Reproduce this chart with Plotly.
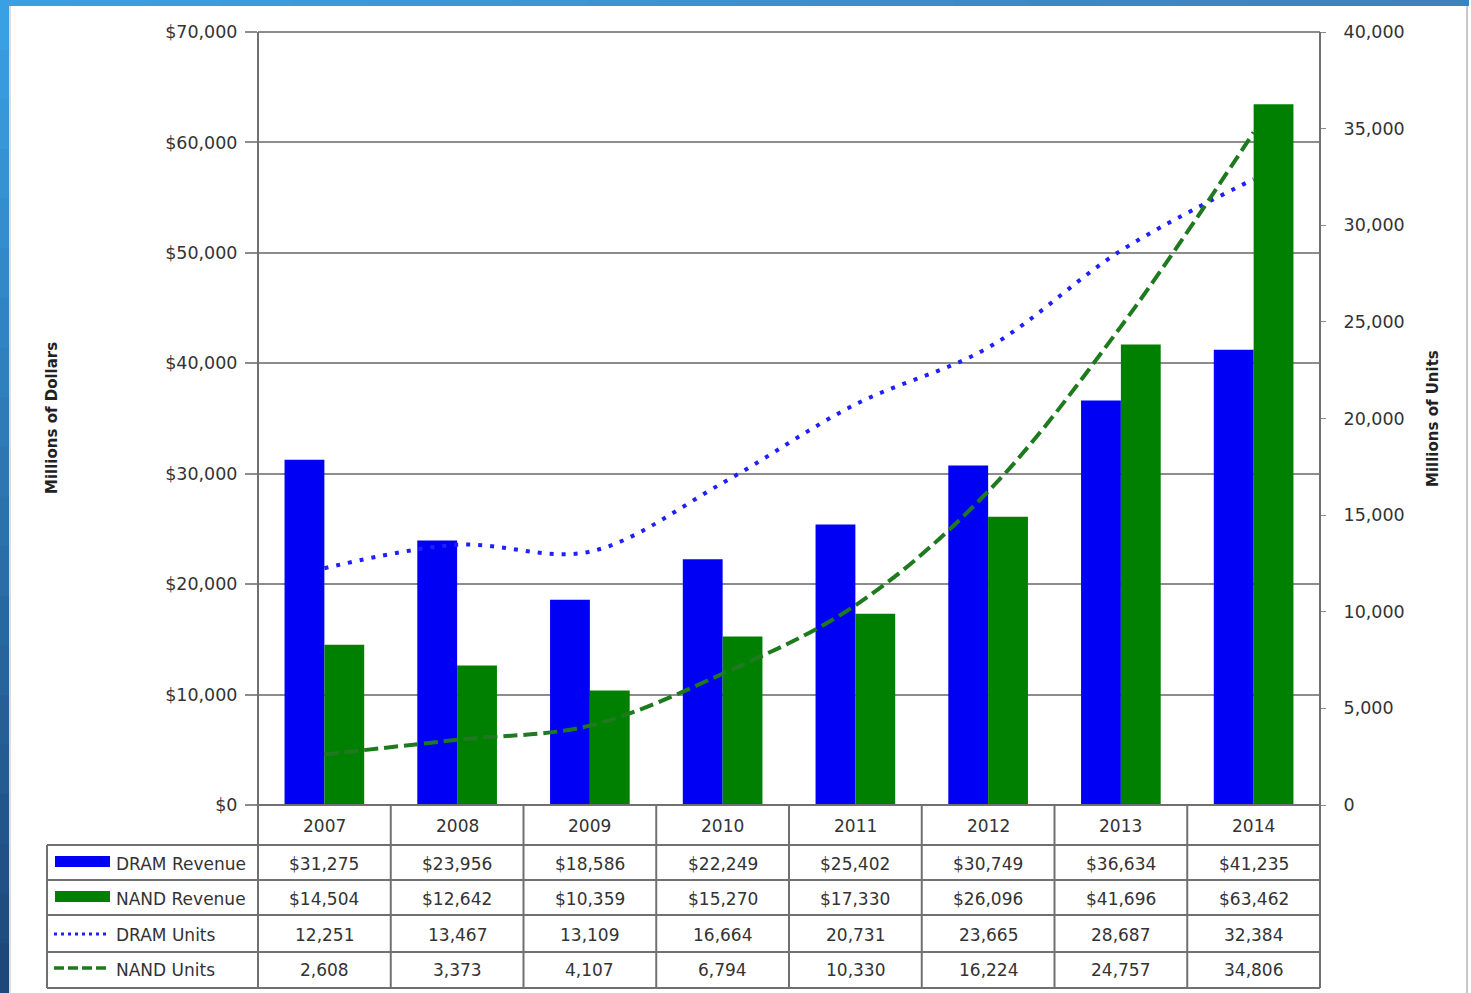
import plotly.graph_objects as go

years = ["2007", "2008", "2009", "2010", "2011", "2012", "2013", "2014"]
dram_revenue = [31275, 23956, 18586, 22249, 25402, 30749, 36634, 41235]
nand_revenue = [14504, 12642, 10359, 15270, 17330, 26096, 41696, 63462]
dram_units = [12251, 13467, 13109, 16664, 20731, 23665, 28687, 32384]
nand_units = [2608, 3373, 4107, 6794, 10330, 16224, 24757, 34806]
series_names = ["DRAM Revenue", "NAND Revenue", "DRAM Units", "NAND Units"]

W, H = 1471, 993
L, R, T, B = 258, 1320, 32, 805
PW, PH = R - L, B - T


def px(x):
    return (x - L) / PW


def py(y):
    return (B - y) / PH


BLUE = "#0000f5"
GREEN = "#008000"
DOT_BLUE = "#2020ff"
DASH_GREEN = "#1f7a1f"
GRID = "#8c8c8c"
TXT = "#333333"
FONT = "DejaVu Sans"

fig = go.Figure()
fig.add_trace(go.Bar(x=years, y=dram_revenue, name=series_names[0],
                     marker=dict(color=BLUE, line=dict(width=0))))
fig.add_trace(go.Bar(x=years, y=nand_revenue, name=series_names[1],
                     marker=dict(color=GREEN, line=dict(width=0))))
fig.add_trace(go.Scatter(x=years, y=dram_units, name=series_names[2], yaxis="y2",
                         mode="lines", line=dict(color=DOT_BLUE, width=4, dash="4px,8px",
                                                 shape="spline", smoothing=1)))
fig.add_trace(go.Scatter(x=years, y=nand_units, name=series_names[3], yaxis="y2",
                         mode="lines", line=dict(color=DASH_GREEN, width=4, dash="14px,6px",
                                                 shape="spline", smoothing=1)))

shapes = []
# blue frame around the slide
n = 20
def lerp(c1, c2, t):
    return "rgb(%d,%d,%d)" % tuple(round(a + (b - a) * t) for a, b in zip(c1, c2))
top_c, bot_c = (58, 160, 228), (30, 72, 122)
for i in range(n):
    y0 = i * H / n
    y1 = (i + 1) * H / n + 1
    shapes.append(dict(type="rect", xref="paper", yref="paper", x0=px(0), x1=px(9),
                       y0=py(y0), y1=py(y1), line=dict(width=0),
                       fillcolor=lerp(top_c, bot_c, i / (n - 1)), layer="below"))
for i in range(n):
    x0 = i * 1468 / n
    x1 = (i + 1) * 1468 / n + 1
    shapes.append(dict(type="rect", xref="paper", yref="paper", x0=px(x0), x1=px(x1),
                       y0=py(0), y1=py(6), line=dict(width=0),
                       fillcolor=lerp((58, 160, 228), (60, 130, 190), i / (n - 1)), layer="below"))
shapes.append(dict(type="line", xref="paper", yref="paper", x0=px(1467), x1=px(1467),
                   y0=py(6), y1=py(993), line=dict(color="#c8c8c8", width=2)))
shapes.append(dict(type="line", xref="paper", yref="paper", x0=px(10), x1=px(10),
                   y0=py(6), y1=py(993), line=dict(color="#dddddd", width=2)))

# plot border
shapes.append(dict(type="line", xref="paper", yref="paper", x0=0, x1=1, y0=1, y1=1,
                   line=dict(color=GRID, width=2)))
# data table grid
row_lines = [845, 880, 915, 952, 988]
shapes.append(dict(type="line", xref="paper", yref="paper", x0=0, x1=0, y0=1, y1=py(988),
                   line=dict(color="#707070", width=2)))
shapes.append(dict(type="line", xref="paper", yref="paper", x0=1, x1=1, y0=1, y1=py(988),
                   line=dict(color="#707070", width=2)))
shapes.append(dict(type="line", xref="paper", yref="paper", x0=0, x1=1, y0=0, y1=0,
                   line=dict(color="#707070", width=2)))
for ry in row_lines:
    shapes.append(dict(type="line", xref="paper", yref="paper", x0=px(47), x1=1,
                       y0=py(ry), y1=py(ry), line=dict(color="#707070", width=2)))
shapes.append(dict(type="line", xref="paper", yref="paper", x0=px(47), x1=px(47),
                   y0=py(845), y1=py(988), line=dict(color="#707070", width=2)))
for i in range(1, len(years)):
    xb = i / len(years)
    shapes.append(dict(type="line", xref="paper", yref="paper", x0=xb, x1=xb,
                       y0=0, y1=py(988), line=dict(color="#707070", width=2)))

# legend keys inside the table
shapes.append(dict(type="rect", xref="paper", yref="paper", x0=px(55), x1=px(110),
                   y0=py(856), y1=py(867), fillcolor=BLUE, line=dict(width=0)))
shapes.append(dict(type="rect", xref="paper", yref="paper", x0=px(55), x1=px(110),
                   y0=py(891), y1=py(902), fillcolor=GREEN, line=dict(width=0)))
shapes.append(dict(type="line", xref="paper", yref="paper", x0=px(54), x1=px(110),
                   y0=py(934), y1=py(934), line=dict(color=DOT_BLUE, width=3, dash="3px,4px")))
shapes.append(dict(type="line", xref="paper", yref="paper", x0=px(54), x1=px(110),
                   y0=py(968), y1=py(968), line=dict(color=DASH_GREEN, width=3.5, dash="10px,4px")))

annotations = []
tfont = dict(family=FONT, size=17, color=TXT)
for i, yr in enumerate(years):
    annotations.append(dict(x=i, xref="x", y=py(826), yref="paper", text=yr,
                            showarrow=False, font=tfont, xanchor="center", yanchor="middle"))
row_centers = [864, 899, 935, 970]
rows = [[f"${v:,}" for v in dram_revenue], [f"${v:,}" for v in nand_revenue],
        [f"{v:,}" for v in dram_units], [f"{v:,}" for v in nand_units]]
for name, cy, vals in zip(series_names, row_centers, rows):
    annotations.append(dict(x=px(114), xref="paper", y=py(cy), yref="paper", text=name,
                            showarrow=False, font=tfont, xanchor="left", yanchor="middle"))
    for i, v in enumerate(vals):
        annotations.append(dict(x=i, xref="x", y=py(cy), yref="paper", text=v,
                                showarrow=False, font=tfont, xanchor="center", yanchor="middle"))
annotations.append(dict(x=px(52), xref="paper", y=py(418), yref="paper", text="<b>Millions of Dollars</b>",
                        textangle=-90, showarrow=False, font=dict(family=FONT, size=15, color="#222"),
                        xanchor="center", yanchor="middle"))
annotations.append(dict(x=px(1433), xref="paper", y=py(418), yref="paper", text="<b>Millions of Units</b>",
                        textangle=-90, showarrow=False, font=dict(family=FONT, size=15, color="#222"),
                        xanchor="center", yanchor="middle"))

fig.update_layout(
    width=W, height=H, autosize=False,
    margin=dict(l=L, r=W - R, t=T, b=H - B, pad=0),
    paper_bgcolor="white", plot_bgcolor="white",
    font=dict(family=FONT, color=TXT),
    showlegend=False,
    barmode="group", bargap=0.4, bargroupgap=0,
    xaxis=dict(type="category", range=[-0.5, 7.5], showticklabels=False, showgrid=False,
               zeroline=False, ticks="", showline=False, fixedrange=True),
    yaxis=dict(range=[0, 70000], dtick=10000, tickprefix="$", tickformat=",",
               showgrid=True, gridcolor=GRID, gridwidth=1.5, zeroline=False,
               ticks="outside", ticklen=12, tickcolor=GRID, tickwidth=1.5,
               ticklabelstandoff=4, tickfont=dict(family=FONT, size=17.5, color=TXT), showline=False),
    yaxis2=dict(range=[0, 40000], dtick=5000, tickformat=",", overlaying="y", side="right",
                showgrid=False, zeroline=False, ticks="outside", ticklen=5, tickcolor=GRID,
                ticklabelstandoff=14, tickfont=dict(family=FONT, size=17.5, color=TXT), showline=False),
    shapes=shapes, annotations=annotations,
)

fig.write_html("out.html")
